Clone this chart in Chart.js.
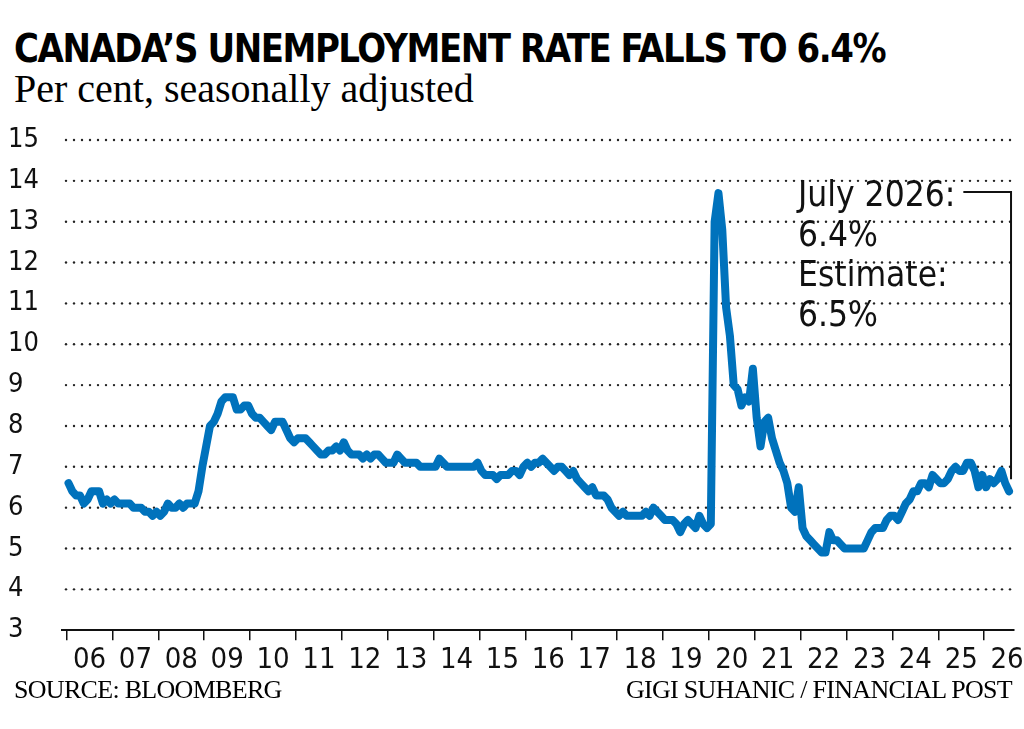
<!DOCTYPE html>
<html lang="en">
<head>
  <meta charset="UTF-8" />
  <title>Canada's unemployment rate</title>
  <script src="https://cdn.jsdelivr.net/npm/chart.js@4.4.1/dist/chart.umd.min.js"></script>
  <style>
    body { margin: 0; width: 1024px; height: 729px; background: #fff; position: relative; overflow: hidden; }
    .narrow { font-family: 'DejaVu Sans Condensed', 'Liberation Sans Narrow', sans-serif; font-stretch: condensed; }
    #title { position: absolute; left: 14px; top: 26px; font-size: 39px; font-weight: bold; letter-spacing: -1.5px; transform: scaleX(0.97); transform-origin: left; }
    #sub { position: absolute; left: 14px; top: 65px; font-family: 'Liberation Serif', serif; font-size: 40px; }
    #src, #credit { position: absolute; top: 675px; font-family: 'Liberation Serif', serif; font-size: 26px; letter-spacing: -0.7px; }
    #src { left: 14px; }
    #credit { right: 12px; }
    #wrap { position: absolute; left: 0; top: 118px; width: 1024px; height: 560px; }
  </style>
</head>
<body>
  <div id="title" class="narrow">CANADA’S UNEMPLOYMENT RATE FALLS TO 6.4%</div>
  <div id="sub">Per cent, seasonally adjusted</div>
  <div id="wrap"><canvas id="myChart"></canvas></div>
  <div id="src">SOURCE: BLOOMBERG</div>
  <div id="credit">GIGI SUHANIC / FINANCIAL POST</div>

  <script>
    // monthly rate, Jan 2006 .. Jul 2026
    const startYear = 2006;
    const rates = [
      6.6, 6.4, 6.3, 6.3, 6.1, 6.2, 6.4, 6.4, 6.4, 6.1, 6.2, 6.1,   // 2006
      6.2, 6.1, 6.1, 6.1, 6.1, 6.0, 6.0, 6.0, 5.9, 5.9, 5.8, 5.9,   // 2007
      5.8, 5.9, 6.1, 6.0, 6.0, 6.1, 6.0, 6.1, 6.1, 6.1, 6.4, 7.0,   // 2008
      7.5, 8.0, 8.1, 8.3, 8.6, 8.7, 8.7, 8.7, 8.4, 8.4, 8.5, 8.5,   // 2009
      8.3, 8.2, 8.2, 8.1, 8.0, 7.9, 8.1, 8.1, 8.1, 7.9, 7.7, 7.6,   // 2010
      7.7, 7.7, 7.7, 7.6, 7.5, 7.4, 7.3, 7.3, 7.4, 7.4, 7.5, 7.4,   // 2011
      7.6, 7.4, 7.3, 7.3, 7.3, 7.2, 7.3, 7.2, 7.3, 7.3, 7.2, 7.1,   // 2012
      7.1, 7.1, 7.3, 7.2, 7.1, 7.1, 7.1, 7.1, 7.0, 7.0, 7.0, 7.0,   // 2013
      7.0, 7.2, 7.1, 7.0, 7.0, 7.0, 7.0, 7.0, 7.0, 7.0, 7.0, 7.1,   // 2014
      6.9, 6.8, 6.8, 6.8, 6.7, 6.8, 6.8, 6.8, 6.9, 6.9, 6.8, 7.0,   // 2015
      7.1, 7.0, 7.1, 7.1, 7.2, 7.1, 7.0, 6.9, 7.0, 7.0, 6.9, 6.8,   // 2016
      6.9, 6.7, 6.6, 6.5, 6.4, 6.5, 6.3, 6.3, 6.3, 6.2, 6.0, 5.9,   // 2017
      5.8, 5.9, 5.8, 5.8, 5.8, 5.8, 5.8, 5.9, 5.8, 6.0, 5.9, 5.8,   // 2018
      5.7, 5.7, 5.7, 5.6, 5.4, 5.6, 5.7, 5.6, 5.5, 5.8, 5.6, 5.5,   // 2019
      5.6, 13.0, 13.7, 12.8, 10.9, 10.2, 9.0, 8.9, 8.5, 8.7, 8.6, 9.4, // 2020
      8.2, 7.5, 8.1, 8.2, 7.7, 7.4, 7.1, 6.9, 6.6, 6.0, 5.9, 6.5,   // 2021
      5.5, 5.3, 5.2, 5.1, 5.0, 4.9, 4.9, 5.4, 5.2, 5.2, 5.1, 5.0,   // 2022
      5.0, 5.0, 5.0, 5.0, 5.0, 5.2, 5.4, 5.5, 5.5, 5.5, 5.7, 5.8,   // 2023
      5.8, 5.7, 5.9, 6.1, 6.2, 6.4, 6.4, 6.6, 6.6, 6.5, 6.8, 6.7,   // 2024
      6.6, 6.6, 6.7, 6.9, 7.0, 6.9, 6.9, 7.1, 7.1, 6.9, 6.5, 6.8,   // 2025
      6.5, 6.7, 6.6, 6.7, 6.9, 6.6, 6.4                             // 2026
    ];
    const yearLabels = ['06','07','08','09','10','11','12','13','14','15','16',
                        '17','18','19','20','21','22','23','24','25','26'];
    const yTicks = [3, 4, 5, 6, 7, 8, 9, 10, 11, 12, 13, 14, 15];
    const noteLines = ['July 2026:', '6.4%', 'Estimate:', '6.5%'];

    const points = rates.map((v, i) => ({ x: startYear + (i + 0.5) / 12, y: v }));
    const narrow = "'DejaVu Sans Condensed', 'Liberation Sans Narrow', sans-serif";

    const annotation = {
      id: 'annotation',
      afterDatasetsDraw(chart) {
        const { ctx, scales: { x, y } } = chart;
        const last = points[points.length - 1];
        const px = x.getPixelForValue(last.x) + 2;
        ctx.save();
        ctx.fillStyle = '#111';
        ctx.font = '500 35px ' + narrow;
        ctx.textBaseline = 'alphabetic';
        const tx = 798, ty0 = 88, lh = 40;
        noteLines.forEach((t, i) => ctx.fillText(t, tx, ty0 + i * lh));
        const w = ctx.measureText(noteLines[0]).width;
        const ly = ty0 - 14;
        ctx.strokeStyle = '#111';
        ctx.lineWidth = 2;
        ctx.beginPath();
        ctx.moveTo(tx + w + 8, ly);
        ctx.lineTo(px, ly);
        ctx.lineTo(px, y.getPixelForValue(last.y) - 12);
        ctx.stroke();
        ctx.restore();
      }
    };

    new Chart(document.getElementById('myChart'), {
      type: 'line',
      data: {
        datasets: [{
          data: points,
          borderColor: '#0072bc',
          borderWidth: 8,
          pointRadius: 0,
          tension: 0,
          borderCapStyle: 'round',
          borderJoinStyle: 'round'
        }]
      },
      options: {
        responsive: true,
        maintainAspectRatio: false,
        animation: false,
        layout: { padding: { top: 22, right: 10, left: 8, bottom: 0 } },
        plugins: { legend: { display: false }, tooltip: { enabled: false } },
        scales: {
          y: {
            min: 3, max: 15,
            afterBuildTicks: s => { s.ticks = yTicks.map(v => ({ value: v })); },
            afterFit: s => { s.width = 54; },
            border: { display: false },
            grid: { display: false },
            ticks: {
              color: '#111', crossAlign: 'far', padding: 0,
              font: { family: narrow, size: 27 }
            }
          },
          x: {
            type: 'linear', min: 2005.9, max: 2026.65,
            afterBuildTicks: s => { s.ticks = yearLabels.map((_, i) => ({ value: startYear + i })); },
            afterFit: s => { s.height = 5; },
            border: { display: true, color: '#111', width: 2 },
            grid: { drawOnChartArea: false, drawTicks: true, tickLength: 10, color: '#111', lineWidth: 1.5 },
            ticks: { display: false }
          },
          x2: {
            type: 'linear', position: 'bottom', min: 2005.9, max: 2026.65,
            afterBuildTicks: s => { s.ticks = yearLabels.map((_, i) => ({ value: startYear + i + 0.5 })); },
            border: { display: false },
            grid: { display: false },
            ticks: {
              color: '#111', padding: 0, maxRotation: 0, autoSkip: false,
              font: { family: narrow, size: 29 },
              callback: v => yearLabels[Math.round(v - 0.5 - startYear)]
            }
          }
        }
      },
      plugins: [annotation, {
        id: 'dotgrid',
        beforeDatasetsDraw(chart) {
          const { ctx, chartArea: a, scales: { y } } = chart;
          ctx.save();
          ctx.fillStyle = '#222';
          yTicks.slice(1).forEach(v => {
            const py = y.getPixelForValue(v);
            for (let px = a.left + 4; px < a.right; px += 8) {
              ctx.beginPath(); ctx.arc(px, py, 1.2, 0, Math.PI * 2); ctx.fill();
            }
          });
          ctx.restore();
        }
      }]
    });
  </script>
</body>
</html>
